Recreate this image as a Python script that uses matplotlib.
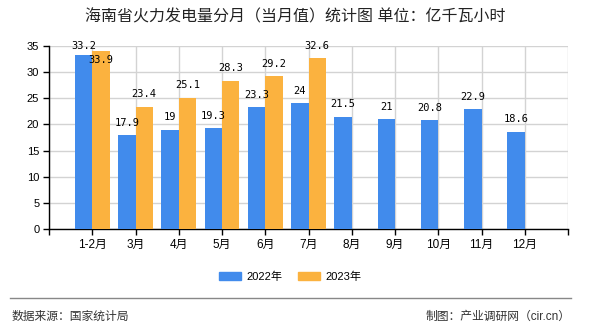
import matplotlib
matplotlib.use("Agg")
import matplotlib.pyplot as plt
from matplotlib.lines import Line2D
from matplotlib.patches import Patch
import numpy as np

months = ["1-2月", "3月", "4月", "5月", "6月", "7月", "8月", "9月", "10月", "11月", "12月"]
v2022 = [33.2, 17.9, 19, 19.3, 23.3, 24, 21.5, 21, 20.8, 22.9, 18.6]
v2023 = [33.9, 23.4, 25.1, 28.3, 29.2, 32.6]
yticks = [0, 5, 10, 15, 20, 25, 30, 35]

blue = "#418bec"
orange = "#fbb23f"
fam = ["Liberation Sans", "Noto Sans CJK SC"]
mono = ["DejaVu Sans Mono", "Noto Sans CJK SC"]

fig = plt.figure(figsize=(5.9, 3.3), dpi=100)
ax = fig.add_axes([49/590, 1-229.3/330, (568-49)/590, (229.3-45.7)/330])

x = np.arange(1, len(months)+1)
w = 0.4
b1 = ax.bar(x[:len(v2022)] - w/2, v2022, w, color=blue, zorder=3)
b2 = ax.bar(x[:len(v2023)] + w/2, v2023, w, color=orange, zorder=3)

# labels above bars; first pair is squeezed at the top
for i, v in enumerate(v2022):
    dy = 6.5 if i == 0 else 9
    ax.annotate(str(v), (x[i] - w/2, v), xytext=(0, dy), textcoords="offset points",
                ha="center", va="center", fontsize=7.5, family=mono, zorder=5)
for i, v in enumerate(v2023):
    dy = -6.5 if i == 0 else 9
    ax.annotate(str(v), (x[i] + w/2, v), xytext=(0, dy), textcoords="offset points",
                ha="center", va="center", fontsize=7.5, family=mono, zorder=5)

ax.set_xlim(0, 12)
ax.set_ylim(0, 35)
ax.set_xticks(np.arange(0, 13))
ax.set_xticklabels([""] + months + [""], fontsize=8.5, family=fam)
ax.set_yticks(yticks)
ax.set_yticklabels([str(t) for t in yticks], fontsize=8, family=fam)
ax.tick_params(axis="both", length=4, width=1, colors="black", pad=3)
ax.grid(True, color="#d3d3d3", linewidth=1, zorder=0)
for s in ["top", "right"]:
    ax.spines[s].set_visible(False)
ax.spines["left"].set_linewidth(1)
ax.spines["bottom"].set_linewidth(1)

fig.text(0.5, 1-17/330, "海南省火力发电量分月（当月值）统计图 单位：亿千瓦小时",
         ha="center", va="center", fontsize=11.5, family=fam, weight="medium", color="#222222")

handles = [Patch(color=blue, label="2022年"), Patch(color=orange, label="2023年")]
fig.legend(handles=handles, loc="center", bbox_to_anchor=(290/590, 1-277/330), ncol=2,
           frameon=False, prop={"family": fam, "size": 8}, handlelength=2.0,
           handleheight=0.7, handletextpad=0.45, columnspacing=1.45)

fig.add_artist(Line2D([10/590, 571/590], [1-298/330, 1-298/330], color="#888888", linewidth=1))
fig.text(12/590, 1-317/330, "数据来源：国家统计局", ha="left", va="center",
         fontsize=8.5, family=fam, color="#333333")
fig.text(571/590, 1-317/330, "制图：产业调研网（cir.cn）", ha="right", va="center",
         fontsize=8.5, family=fam, color="#333333")

fig.savefig("out.png", dpi=100)
